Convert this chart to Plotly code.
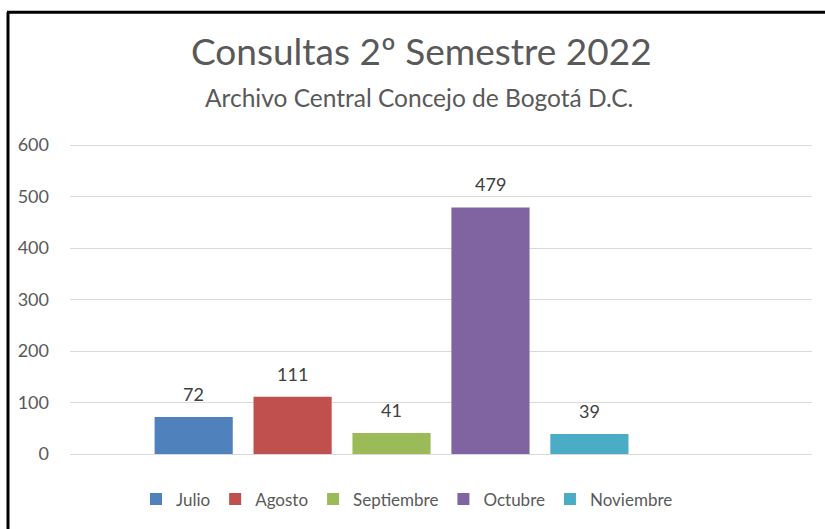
import plotly.graph_objects as go

months = ["Julio", "Agosto", "Septiembre", "Octubre", "Noviembre"]
values = [72, 111, 41, 479, 39]
colors = ["#4F81BD", "#C0504D", "#9BBB59", "#8064A2", "#4BACC6"]
title = "Consultas 2º Semestre 2022"
subtitle = "Archivo Central Concejo de Bogotá D.C."
y_ticks = [0, 100, 200, 300, 400, 500, 600]

W, H = 825, 529
L, R, T, B = 70, 13, 140, 72
pw, ph = W - L - R, H - T - B

def px_x(p):
    return (p - L) / pw

def px_y(p):
    return (H - B - p) / ph

font = "Lato, Open Sans, sans-serif"

fig = go.Figure()
for m, v, c in zip(months, values, colors):
    fig.add_trace(go.Bar(
        x=[m], y=[v], name=m, marker=dict(color=c, line=dict(width=0)),
        width=0.79, cliponaxis=False, hoverinfo="x+y",
    ))

label_annotations = [
    dict(x=m, y=v, xref="x", yref="y", text=str(v), showarrow=False,
         xanchor="center", yanchor="middle", yshift=23,
         font=dict(family=font, size=18, color="#404040"))
    for m, v in zip(months, values)
]

fig.update_layout(
    width=W, height=H,
    margin=dict(l=L, r=R, t=T, b=B),
    paper_bgcolor="white", plot_bgcolor="white",
    barmode="overlay",
    showlegend=True,
    legend=dict(orientation="h", x=px_x(407), xanchor="center", y=px_y(503), yanchor="middle",
                font=dict(family=font, size=17, color="#595959"), itemwidth=30,
                traceorder="normal", itemclick=False, tracegroupgap=0),
    xaxis=dict(type="category", categoryorder="array", categoryarray=months,
               range=[-1.25, 6.25], showticklabels=False, showgrid=False,
               zeroline=False, showline=False, ticks=""),
    yaxis=dict(range=[0, 610], tickvals=y_ticks, showgrid=True, gridcolor="#D9D9D9",
               gridwidth=1, zeroline=True, zerolinecolor="#D9D9D9", zerolinewidth=1,
               showline=False, ticks="", ticklabelstandoff=20,
               tickfont=dict(family=font, size=18, color="#595959")),
    annotations=[
        dict(text=title, x=px_x(421), y=px_y(50), xref="paper", yref="paper",
             showarrow=False, xanchor="center", yanchor="middle",
             font=dict(family=font, size=37, color="#595959")),
        dict(text=subtitle, x=px_x(419), y=px_y(97), xref="paper", yref="paper",
             showarrow=False, xanchor="center", yanchor="middle",
             font=dict(family=font, size=24.5, color="#595959")),
    ] + label_annotations,
    shapes=[
        dict(type="line", xref="paper", yref="paper", x0=px_x(7), x1=px_x(826),
             y0=px_y(11), y1=px_y(11), line=dict(color="black", width=3)),
        dict(type="line", xref="paper", yref="paper", x0=px_x(8), x1=px_x(8),
             y0=px_y(11), y1=px_y(540), line=dict(color="black", width=3)),
    ],
)
fig.write_html("out.html", config={"displayModeBar": False})
